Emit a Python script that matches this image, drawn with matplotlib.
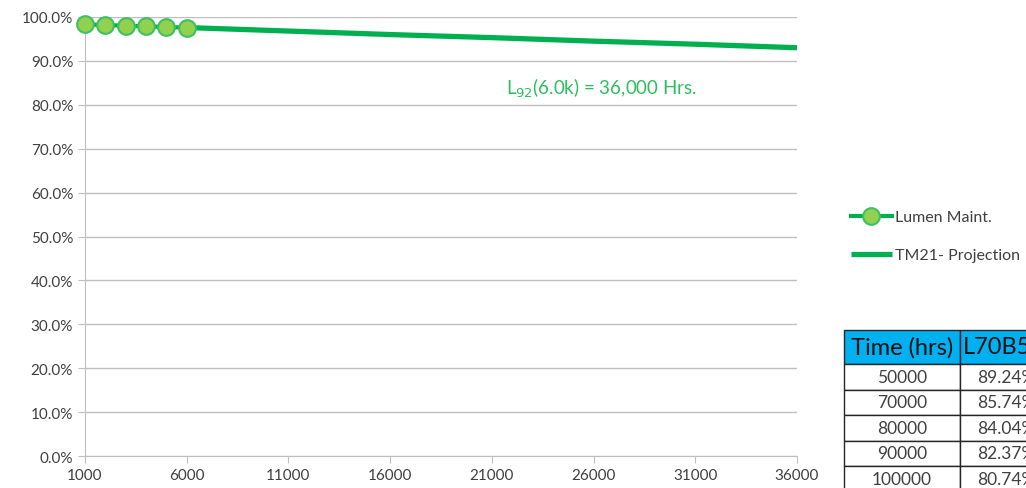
'''
LED lumen maintenance with TM-21 projection
'''

import matplotlib
matplotlib.use('Agg')
import matplotlib.pyplot as plt
from matplotlib.patches import Rectangle
from matplotlib.ticker import FuncFormatter

# measured lumen maintenance (%)
test_hours = [1000, 2000, 3000, 4000, 5000, 6000]
lumen_maint = [98.3, 98.2, 98.0, 97.9, 97.7, 97.6]

# TM-21 projection (%)
proj_hours = [6000, 11000, 16000, 21000, 26000, 31000, 36000]
proj_values = [97.6, 96.8, 96.0, 95.3, 94.5, 93.8, 93.0]

x_ticks = [1000, 6000, 11000, 16000, 21000, 26000, 31000, 36000]

# table on the right
table_header = ['Time (hrs)', 'L70B50']
table_times = ['50000', '70000', '80000', '90000', '100000']
table_l70 = ['89.24%', '85.74%', '84.04%', '82.37%', '80.74%']

plt.rcParams['font.family'] = ['Lato', 'DejaVu Sans']
grey = '#404040'
line_green = '#00B050'

fig = plt.figure(figsize=(10.26, 4.89), dpi=100)
ax = fig.add_axes([0.0828, 0.0654, 0.694, 0.8978])

ax.plot(proj_hours, proj_values, color=line_green, lw=3.8, solid_capstyle='butt',
        label='TM21- Projection', zorder=2)
ax.plot(test_hours, lumen_maint, color=line_green, lw=3.0, marker='o', ms=12,
        markerfacecolor='#92D050', markeredgecolor='#3CC060', markeredgewidth=1.5,
        label='Lumen Maint.', zorder=3, clip_on=False)

ax.set_xlim(1000, 36000)
ax.set_ylim(0, 100)
ax.set_xticks(x_ticks)
ax.set_yticks(range(0, 101, 10))
ax.yaxis.set_major_formatter(FuncFormatter(lambda v, p: '%.1f%%' % v))
ax.tick_params(axis='both', labelsize=11, colors=grey, length=5, color='#BFBFBF')
ax.grid(axis='y', color='#BFBFBF', lw=1)
ax.set_axisbelow(True)
for s in ['top', 'right']:
    ax.spines[s].set_visible(False)
for s in ['left', 'bottom']:
    ax.spines[s].set_color('#BFBFBF')

ax.text(0.592, 0.84, 'L$_{92}$(6.0k) = 36,000 Hrs.', transform=ax.transAxes,
        color='#2DBE5F', fontsize=13.5, ha='left', va='center')

handles, labels = ax.get_legend_handles_labels()
fig.legend(handles[::-1], labels[::-1], loc='center left', bbox_to_anchor=(0.815, 0.515),
           frameon=False, fontsize=11.5, labelcolor=grey, handlelength=2.6,
           handletextpad=0.2, labelspacing=1.5)

# table drawn in figure pixels
W, H = 1026, 489
tx0, tx1, tx2 = 844, 960, 1080
top, hh, rh = 331, 34, 25.5

def box(x0, y0, w, h, fc):
    fig.patches.append(Rectangle((x0 / W, 1 - (y0 + h) / H), w / W, h / H,
                                 transform=fig.transFigure, facecolor=fc,
                                 edgecolor='#262626', lw=1))

box(tx0, top, tx1 - tx0, hh, '#00B0F0')
box(tx1, top, tx2 - tx1, hh, '#00B0F0')
fig.text((tx0 + tx1) / 2 / W, 1 - (top + hh / 2) / H, table_header[0],
         ha='center', va='center', fontsize=17, color='#111111')
fig.text((tx1 + 3) / W, 1 - (top + hh / 2) / H, table_header[1],
         ha='left', va='center', fontsize=17, color='#111111')
for i in range(len(table_times)):
    y0 = top + hh + i * rh
    box(tx0, y0, tx1 - tx0, rh, 'white')
    box(tx1, y0, tx2 - tx1, rh, 'white')
    fig.text((tx0 + tx1) / 2 / W, 1 - (y0 + rh / 2) / H, table_times[i],
             ha='center', va='center', fontsize=12.5, color=grey)
    fig.text((tx1 + 17) / W, 1 - (y0 + rh / 2) / H, table_l70[i],
             ha='left', va='center', fontsize=12.5, color=grey)

fig.savefig('out.png', dpi=100)
